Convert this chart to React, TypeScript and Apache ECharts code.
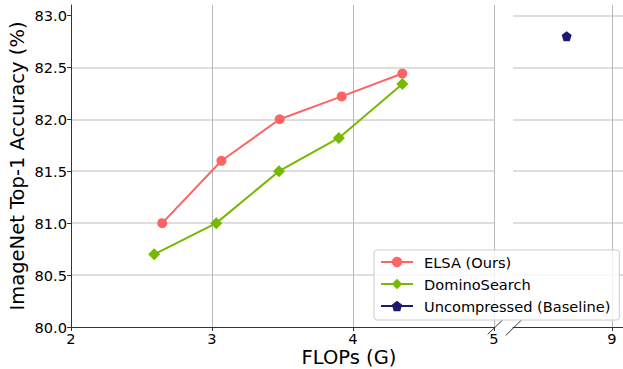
import React, { useEffect, useRef } from "react";
import * as echarts from "echarts";

const elsaFlops = [2.647, 3.067, 3.48, 3.92, 4.35];
const elsaAcc = [81.0, 81.6, 82.0, 82.22, 82.44];
const dominoFlops = [2.59, 3.03, 3.475, 3.9, 4.35];
const dominoAcc = [80.7, 81.0, 81.5, 81.82, 82.34];
const baselineFlops = [8.68];
const baselineAcc = [82.8];
const yTicks = [80.0, 80.5, 81.0, 81.5, 82.0, 82.5, 83.0];
const leftXTicks = [2, 3, 4, 5];
const rightXTicks = [9];

const RED = "#ff6464";
const GREEN = "#76b900";
const NAVY = "#1a1a6e";
const FONT = "DejaVu Sans";
const PENTAGON = "path://M0,-1 L0.951,-0.309 L0.588,0.809 L-0.588,0.809 L-0.951,-0.309 Z";

export default function App() {
  const ref = useRef<HTMLDivElement>(null);
  useEffect(() => {
    const chart = echarts.init(ref.current!, null, { renderer: "svg" });
    const hGrid = { show: true, showMaxLine: false, showMinLine: false, lineStyle: { color: "#d3d3d3", width: 1.5 } };
    const axisLineStyle = { color: "#333", width: 1 };
    chart.setOption({
      animation: false,
      textStyle: { fontFamily: FONT },
      grid: [
        { left: 71, top: 5, width: 423, height: 322, outerBoundsMode: "none", containLabel: false },
        { left: 513, top: 5, width: 113, height: 322, outerBoundsMode: "none", containLabel: false },
      ],
      xAxis: [
        {
          type: "value", gridIndex: 0, min: 2, max: 5, interval: 1,
          axisLine: { show: true, lineStyle: axisLineStyle },
          axisTick: { show: true, length: 4, lineStyle: axisLineStyle, customValues: leftXTicks },
          axisLabel: { fontSize: 14.6, color: "#000", margin: 4, fontFamily: FONT, customValues: leftXTicks },
          splitLine: { show: true, lineStyle: { color: "#b8b8b8", width: 1 } },
        },
        {
          type: "value", gridIndex: 1, min: 8.3, max: 9.1,
          axisLine: { show: true, lineStyle: axisLineStyle },
          axisTick: { show: true, length: 4, lineStyle: axisLineStyle, customValues: rightXTicks },
          axisLabel: { fontSize: 14.6, color: "#000", margin: 4, fontFamily: FONT, customValues: rightXTicks },
          splitLine: { show: false },
        },
      ],
      yAxis: [
        {
          type: "value", gridIndex: 0, min: 80, max: 83.1, interval: 0.5,
          axisLine: { show: true, lineStyle: axisLineStyle },
          axisTick: { show: true, length: 4, lineStyle: axisLineStyle, customValues: yTicks },
          axisLabel: {
            fontSize: 14.6, color: "#000", margin: 4, fontFamily: FONT, customValues: yTicks,
            formatter: (v: number) => v.toFixed(1),
          },
          splitLine: hGrid,
          name: "ImageNet Top-1 Accuracy (%)",
          nameLocation: "middle",
          nameGap: 44,
          nameMoveOverlap: false,
          nameTextStyle: { fontSize: 19.5, color: "#000", fontFamily: FONT },
        },
        {
          type: "value", gridIndex: 1, min: 80, max: 83.1, interval: 0.5,
          axisLine: { show: false },
          axisTick: { show: false },
          axisLabel: { show: false },
          splitLine: hGrid,
        },
      ],
      legend: {
        orient: "vertical",
        left: 374,
        top: 250,
        itemWidth: 32,
        itemHeight: 13,
        itemGap: 6,
        padding: [4, 9, 6, 6],
        backgroundColor: "rgba(255,255,255,0.8)",
        borderColor: "#cccccc",
        borderWidth: 1,
        borderRadius: 3,
        textStyle: { fontSize: 14.6, color: "#000", fontFamily: FONT, lineHeight: 16, padding: [0, 0, 0, 6] },
        data: ["ELSA (Ours)", "DominoSearch", "Uncompressed (Baseline)"],
      },
      graphic: [
        { type: "line", shape: { x1: 487.7, y1: 334.3, x2: 502.6, y2: 320 }, style: { stroke: "#333", lineWidth: 1 } },
        { type: "line", shape: { x1: 505.7, y1: 335.5, x2: 521.5, y2: 320 }, style: { stroke: "#333", lineWidth: 1 } },
        {
          type: "text", x: 349, y: 357,
          style: { text: "FLOPs (G)", fontSize: 19.5, fontFamily: FONT, fill: "#000", align: "center", verticalAlign: "middle" },
        },
      ],
      series: [
        {
          name: "ELSA (Ours)", type: "line", xAxisIndex: 0, yAxisIndex: 0,
          data: elsaFlops.map((x, i) => [x, elsaAcc[i]]),
          symbol: "circle", symbolSize: 10,
          lineStyle: { color: RED, width: 2 }, itemStyle: { color: RED },
          z: 3,
        },
        {
          name: "DominoSearch", type: "line", xAxisIndex: 0, yAxisIndex: 0,
          data: dominoFlops.map((x, i) => [x, dominoAcc[i]]),
          symbol: "diamond", symbolSize: 12,
          lineStyle: { color: GREEN, width: 2 }, itemStyle: { color: GREEN },
          z: 3,
        },
        {
          name: "Uncompressed (Baseline)", type: "line", xAxisIndex: 1, yAxisIndex: 1,
          data: baselineFlops.map((x, i) => [x, baselineAcc[i]]),
          symbol: PENTAGON, symbolSize: 10,
          lineStyle: { color: NAVY, width: 2 }, itemStyle: { color: NAVY },
          markLine: {
            silent: true, symbol: "none", label: { show: false },
            lineStyle: { color: "#b8b8b8", width: 1, type: "solid" },
            data: [{ xAxis: 9 }],
            z: 1,
          },
          z: 3,
        },
      ],
    });
    return () => chart.dispose();
  }, []);
  return (
    <div
      ref={ref}
      style={{ position: "fixed", left: 0, top: 0, width: 623, height: 369, background: "#fff" }}
    />
  );
}
